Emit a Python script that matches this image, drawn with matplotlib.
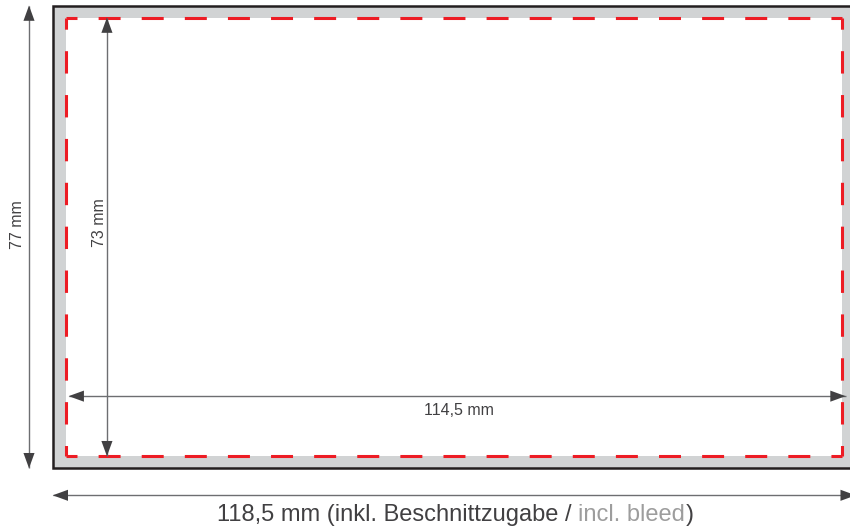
import matplotlib
matplotlib.use('Agg')
import matplotlib.pyplot as plt
from matplotlib.patches import Rectangle

plt.rcParams['font.family'] = ['Liberation Sans', 'DejaVu Sans']
plt.rcParams['lines.scale_dashes'] = False

# card sizes in mm: [with bleed, trimmed]
card_w = [118.5, 114.5]
card_h = [77.0, 73.0]
bleed = 2.0
labels_w = ['118,5 mm', '114,5 mm']
labels_h = ['77 mm', '73 mm']
bottom_parts = ['118,5 mm (inkl. Beschnittzugabe /', 'incl. bleed', ')']

DARK  = '#231f20'
BAND  = '#d1d3d4'
RED   = '#ed1c24'
LINE  = '#6d6e71'
HEAD  = '#414042'
TXT   = '#414042'
LIGHT = '#9d9d9d'

W, H, DPI = 850, 528, 100
fig = plt.figure(figsize=(W / DPI, H / DPI), dpi=DPI, facecolor='white')
ax = fig.add_axes([0, 0, 1, 1])
XLIM = (-7.78, 117.65)
YLIM = (86.94, -0.92)   # y grows downward, like the print sheet
ax.set_xlim(XLIM)
ax.set_ylim(YLIM)
ax.axis('off')
PX_X = W / (XLIM[1] - XLIM[0])
PX_Y = H / (YLIM[0] - YLIM[1])
PT = 72 / DPI

ow, iw = card_w
oh, ih = card_h

# grey bleed area with dark frame, white trimmed area
ax.add_patch(Rectangle((0, 0), ow, oh, facecolor=BAND, edgecolor=DARK, lw=1.8, zorder=1))
ax.add_patch(Rectangle((bleed, bleed), iw, ih, facecolor='white', edgecolor='none', zorder=2))


# red dashed cut line, dashes centred on the corners
def dashed(x0, y0, x1, y1, length_px):
    n = max(1, round(length_px / 43))
    period = length_px / n * PT
    on = period * 0.51
    ax.plot([x0, x1], [y0, y1], color=RED, lw=2.2,
            linestyle=(on / 2, (on, period - on)), dash_capstyle='butt', zorder=3)


x0, x1 = bleed, bleed + iw
y0, y1 = bleed, bleed + ih
dashed(x0, y0, x1, y0, iw * PX_X)
dashed(x0, y1, x1, y1, iw * PX_X)
dashed(x0, y0, x0, y1, ih * PX_Y)
dashed(x1, y0, x1, y1, ih * PX_Y)


def dim_arrow(p0, p1):
    ax.plot([p0[0], p1[0]], [p0[1], p1[1]], color=LINE, lw=1.0, zorder=4,
            solid_capstyle='butt')
    for tip, base in ((p0, p1), (p1, p0)):
        ax.annotate('', xy=tip, xytext=base, annotation_clip=False, zorder=5,
                    arrowprops=dict(arrowstyle='-|>,head_length=1.1,head_width=0.4',
                                    color=HEAD, lw=0, shrinkA=0, shrinkB=0,
                                    mutation_scale=10))


# heights
dim_arrow((-3.5, 0), (-3.5, oh))
dim_arrow((8.0, y0), (8.0, y1))
# widths
dim_arrow((x0 + 0.35, 65.0), (x1 + 0.5, 65.0))
dim_arrow((0, 81.5), (ow, 81.5))

ax.text(-5.27, 36.5, labels_h[0], rotation=90, ha='center', va='center',
        color=TXT, fontsize=11.5)
ax.text(6.9, 36.2, labels_h[1], rotation=90, ha='center', va='center',
        color=TXT, fontsize=11.5)
ax.text(59.9, 67.4, labels_w[1], ha='center', va='center',
        color=TXT, fontsize=11.5)

# bottom caption in two colours
fs = 17
y_txt = 84.75
colors = [TXT, LIGHT, TXT]
pieces = [ax.text(0, y_txt, s, color=c, fontsize=fs, ha='left', va='center')
          for s, c in zip(bottom_parts, colors)]
ta = ax.text(0, 0, 'a a', fontsize=fs)
tb = ax.text(0, 0, 'aa', fontsize=fs)
fig.canvas.draw()
r = fig.canvas.get_renderer()
sp = ta.get_window_extent(r).width - tb.get_window_extent(r).width
ta.remove()
tb.remove()
widths = [t.get_window_extent(r).width for t in pieces]
gaps = [sp, 0, 0]
total = sum(widths) + sp
x = 59.4 - total / 2 / PX_X
for t, w, g in zip(pieces, widths, gaps):
    t.set_x(x)
    x += (w + g) / PX_X

fig.savefig('out.png', dpi=DPI, facecolor='white')
